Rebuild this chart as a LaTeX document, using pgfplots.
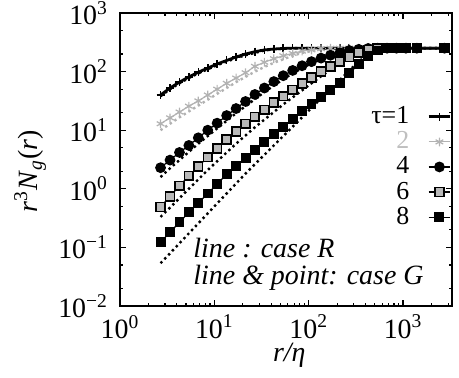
\documentclass[border=0pt]{standalone}
\usepackage{fontspec}
\setmainfont{Liberation Serif}
\usepackage{pgfplots}
\usepackage{pgfplotstable}
\pgfplotsset{compat=1.18}

\pgfplotstableread{
x      t1     t2     t4     t6      t8      r1     r2     r4     r6      r8
2.69   39.8   12.88  2.291  0.4898  0.1230  38.0   10.0   1.585  0.3311  0.0537
3.39   52.5   16.22  3.090  0.7413  0.1820  50.1   12.88  2.239  0.4786  0.0794
4.27   66.1   20.42  4.169  1.122   0.2692  63.1   16.60  3.090  0.6918  0.1175
5.37   81.3   25.70  5.495  1.660   0.3981  77.6   20.89  4.266  1.000   0.1738
6.76   97.7   31.62  7.413  2.399   0.5754  93.3   26.30  5.888  1.445   0.2570
8.51   114.8  39.81  10.00  3.467   0.8318  109.6  33.11  7.943  2.089   0.3802
10.7   134.9  50.12  13.18  4.898   1.202   128.8  41.69  10.72  2.951   0.5623
13.5   154.9  63.10  17.78  6.918   1.778   147.9  52.48  14.45  4.169   0.8318
17.0   177.8  77.62  23.44  9.550   2.455   169.8  66.07  19.50  5.888   1.230
21.4   199.5  95.50  30.90  12.88   3.388   190.5  81.28  25.70  8.128   1.820
26.9   218.8  123.0  40.74  16.98   4.571   208.9  100.0  33.88  11.22   2.630
33.9   234.4  144.5  52.48  22.39   6.310   229.1  120.2  44.67  15.14   3.802
42.7   242.7  166.0  67.61  29.51   8.511   239.9  141.3  57.54  20.42   5.495
53.7   248.3  186.2  85.11  38.02   11.48   245.5  162.2  74.13  27.54   7.943
67.6   251    204.2  104.7  48.98   15.49   251    186.2  93.33  36.31   11.48
85.1   251    223.9  125.9  63.10   20.89   251    208.9  114.8  47.86   16.60
107    251    234.4  147.9  79.43   28.18   251    223.9  138.0  63.10   23.99
135    251    245.5  169.8  100.0   37.15   251    239.9  162.2  83.18   34.67
170    251    251    190.5  123.0   48.98   251    251    186.2  107.2   50.12
214    251    251    208.9  147.9   64.57   251    251    208.9  138.0   72.44
269    251    251    229.1  177.8   93.33   251    251    229.1  173.8   104.7
339    251    251    239.9  208.9   134.9   251    251    245.5  208.9   147.9
427    251    251    248.3  234.4   186.2   251    251    251    234.4   199.5
537    251    251    251    251     229.1   251    251    251    251     239.9
676    251    251    251    251     251     251    251    251    251     251
851    251    251    251    251     251     251    251    251    251     251
1072   251    251    251    251     251     251    251    251    251     251
1400   251    251    251    251     251     251    251    251    251     251
2750   251    251    251    251     251     251    251    251    251     251
}\data

\begin{document}
\begin{tikzpicture}
\begin{axis}[
  at={(0,0)}, anchor=south west,
  scale only axis, width=166bp, height=146.5bp,
  xmode=log, ymode=log,
  xmin=1, xmax=3300, ymin=0.01, ymax=1000,
  xtick={1,10,100,1000},
  xticklabels={10\textsuperscript{0},10\textsuperscript{1},10\textsuperscript{2},10\textsuperscript{3}},
  ytick={0.01,0.1,1,10,100,1000},
  yticklabels={10\textsuperscript{−2},10\textsuperscript{−1},10\textsuperscript{0},10\textsuperscript{1},10\textsuperscript{2},10\textsuperscript{3}},
  minor xtick={2,3,4,5,6,7,8,9,20,30,40,50,60,70,80,90,200,300,400,500,600,700,800,900,2000,3000},
  minor ytick={0.02,0.05,0.2,0.5,2,5,20,50,200,500},
  tick align=inside,
  major tick length=3bp, minor tick length=1.6bp,
  every tick/.style={black, line width=0.6pt},
  axis line style={line width=0.9pt},
  tick label style={font=\fontsize{14}{16}\selectfont},
  yticklabel style={xshift=-2.5bp},
  xticklabel style={yshift=-1bp},
  xlabel={\textit{r/η}},
  xlabel style={at={(axis description cs:0.51,-0.167)}, anchor=center, font=\fontsize{14}{16}\selectfont},
  ylabel={\textit{r}\textsuperscript{3}\textit{N}\textsubscript{\textit{g}}(\textit{r})},
  ylabel style={at={(axis description cs:-0.271,0.46)}, anchor=center, rotate=0, font=\fontsize{14}{16}\selectfont},
  legend style={draw=none, fill=none, inner sep=0pt, at={(axis description cs:1.0,0.695)}, anchor=north east,
    font=\fontsize{13}{15}\selectfont, row sep=-1.5pt, column sep=7bp,
    legend image code/.code={\draw[mark repeat=2,mark phase=2,##1] plot coordinates {(0cm,0cm) (0.19cm,0cm) (0.38cm,0cm)};}},
  legend cell align=right,
  legend plot pos=right,
]
% case R : dotted lines
\addplot[forget plot, black, line width=1.2pt, dash pattern=on 1.2pt off 1.6pt] table[x=x,y=r1]{\data};
\addplot[forget plot, gray!60, line width=1.2pt, dash pattern=on 1.2pt off 1.6pt] table[x=x,y=r2]{\data};
\addplot[forget plot, black, line width=1.2pt, dash pattern=on 1.2pt off 1.6pt] table[x=x,y=r4]{\data};
\addplot[forget plot, black, line width=1.2pt, dash pattern=on 1.2pt off 1.6pt] table[x=x,y=r6]{\data};
\addplot[forget plot, black, line width=1.2pt, dash pattern=on 1.2pt off 1.6pt] table[x=x,y=r8]{\data};
% case G : line and point
\addplot[black, line width=1.4pt, mark=+, mark size=2pt, mark options={line width=0.8pt}] table[x=x,y=t1]{\data};
\addlegendentry{τ=1}
\addplot[gray!60, line width=0.6pt, mark=asterisk, mark size=2.2pt, mark options={line width=0.6pt}] table[x=x,y=t2]{\data};
\addlegendentry{\textcolor{gray!50}{2}}
\addplot[black, line width=0.6pt, mark=*, mark size=2.4pt] table[x=x,y=t4]{\data};
\addlegendentry{4}
\addplot[black, line width=0.6pt, mark=square*, mark size=2.2pt, mark options={fill=gray!55, line width=0.8pt}] table[x=x,y=t6]{\data};
\addlegendentry{6}
\addplot[black, line width=0.6pt, mark=square*, mark size=2.2pt] table[x=x,y=t8]{\data};
\addlegendentry{8}
\node[anchor=west, font=\fontsize{14}{16}\selectfont\itshape] at (axis description cs:0.20,0.198) {line : case R};
\node[anchor=west, font=\fontsize{14}{16}\selectfont\itshape] at (axis description cs:0.20,0.096) {line \& point: case G};
\end{axis}
\pgfresetboundingbox
\path[use as bounding box] (-60bp,-36bp) rectangle (169.5bp,153bp);
\end{tikzpicture}
\end{document}
